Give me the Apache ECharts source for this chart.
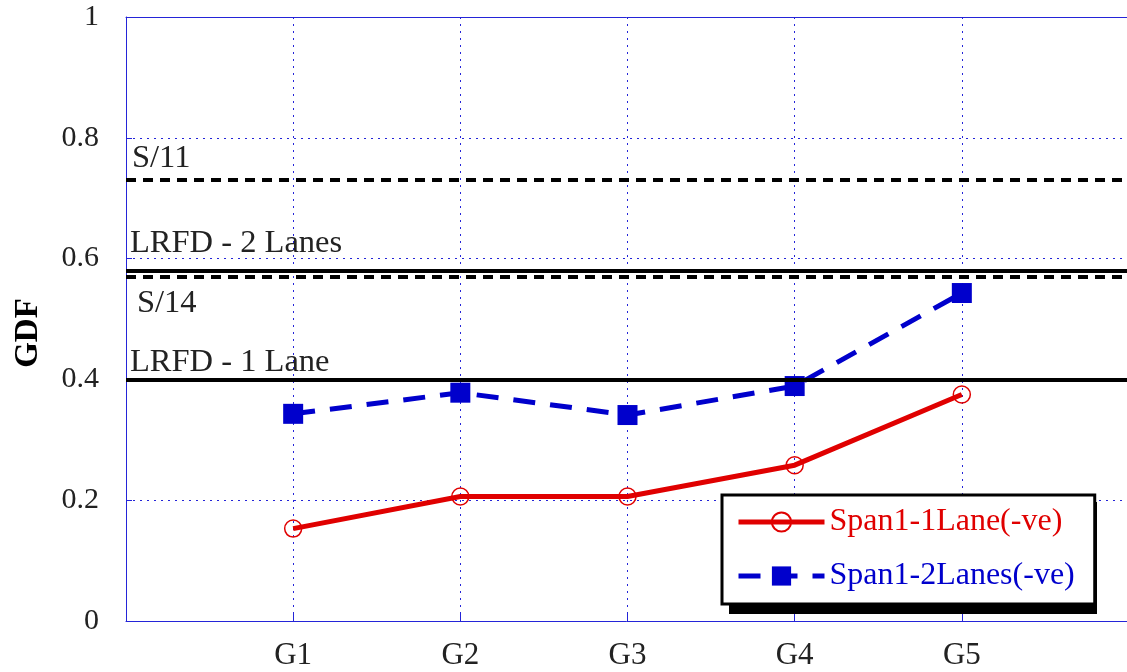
<!DOCTYPE html>
<html>
<head>
<meta charset="utf-8">
<script src="https://cdn.jsdelivr.net/npm/echarts@6/dist/echarts.min.js"></script>
<style>
  html, body { margin: 0; padding: 0; background: #fff; }
  #chart { width: 1127px; height: 672px; }
</style>
</head>
<body>
<div id="chart"></div>
<script>
// girders along x, GDF values
const girders = ['G1', 'G2', 'G3', 'G4', 'G5']
const oneLane = [0.153, 0.206, 0.206, 0.258, 0.375]
const twoLanes = [0.343, 0.378, 0.341, 0.389, 0.543]
const refNames = ['S/11', 'LRFD - 2 Lanes', 'S/14', 'LRFD - 1 Lane']
const refValues = [0.732, 0.581, 0.571, 0.4]
const refDashed = [true, false, true, false]

const serif = '"Liberation Serif", "DejaVu Serif", serif'
const axisBlue = '#2424d8'

const chart = echarts.init(document.getElementById('chart'), null, { renderer: 'canvas' })

// label offsets (x, y) for the reference lines
const refLabelPos = [
  ['insideStartTop', [6, 5]],
  ['insideStartTop', [4, 11]],
  ['insideStartBottom', [11, 10]],
  ['insideStartTop', [4, 0]]
]

const refLines = refValues.map((v, i) => ({
  yAxis: v,
  lineStyle: {
    color: '#000',
    width: 4,
    type: refDashed[i] ? [10, 7] : 'solid'
  },
  label: {
    show: true,
    formatter: refNames[i],
    position: refLabelPos[i][0],
    distance: refLabelPos[i][1],
    color: '#222',
    fontFamily: serif,
    fontSize: 32.5
  }
}))

const option = {
  animation: false,
  backgroundColor: '#fff',
  grid: {
    left: 126,
    top: 17,
    right: -2,
    bottom: 51,
    outerBoundsMode: 'none',
    containLabel: false
  },
  graphic: [
    {
      // legend drop shadow
      type: 'rect',
      z: 3,
      shape: { x: 729, y: 502, width: 368, height: 112 },
      style: { fill: '#000' }
    }
  ],
  legend: {
    orient: 'vertical',
    left: 722,
    top: 495,
    width: 368,
    height: 112,
    z: 5,
    padding: [11, 20, 12, 14],
    itemGap: 22,
    itemWidth: 86,
    itemHeight: 24,
    backgroundColor: '#fff',
    borderColor: '#000',
    borderWidth: 3,
    lineStyle: { width: 5 },
    textStyle: { fontFamily: serif, fontSize: 32 },
    data: [
      { name: 'Span1-1Lane(-ve)', textStyle: { color: '#e00000' } },
      { name: 'Span1-2Lanes(-ve)', textStyle: { color: '#0000cc' } }
    ]
  },
  xAxis: [
    {
      type: 'value',
      min: 0,
      max: 6,
      interval: 1,
      axisLine: { lineStyle: { color: axisBlue, width: 1 } },
      axisTick: { inside: true, length: 8, lineStyle: { color: axisBlue } },
      splitLine: { show: true, lineStyle: { color: axisBlue, type: [2, 5], width: 1 } },
      axisLabel: {
        margin: 19,
        color: '#222',
        fontFamily: serif,
        fontSize: 31,
        formatter: v => girders[v - 1] || ''
      }
    },
    {
      // top frame line
      type: 'value',
      position: 'top',
      min: 0,
      max: 6,
      axisLine: { show: true, lineStyle: { color: axisBlue, width: 1 } },
      axisTick: { show: false },
      axisLabel: { show: false },
      splitLine: { show: false }
    }
  ],
  yAxis: {
    type: 'value',
    min: 0,
    max: 1,
    interval: 0.2,
    name: 'GDF',
    nameLocation: 'middle',
    nameGap: 81,
    nameTextStyle: {
      fontFamily: serif,
      fontSize: 33,
      fontWeight: 'bold',
      color: '#000',
      padding: [0, 28, 0, 0]
    },
    axisLine: { show: true, lineStyle: { color: axisBlue, width: 1 } },
    axisTick: { show: true, inside: true, length: 6, lineStyle: { color: axisBlue } },
    splitLine: { show: true, lineStyle: { color: axisBlue, type: [2, 5], width: 1 } },
    axisLabel: {
      margin: 27,
      color: '#222',
      fontFamily: serif,
      fontSize: 30
    }
  },
  series: [
    {
      name: 'Span1-1Lane(-ve)',
      type: 'line',
      data: oneLane.map((v, i) => [i + 1, v]),
      symbol: 'circle',
      symbolSize: 17,
      lineStyle: { color: '#e00000', width: 5 },
      itemStyle: { color: 'rgba(255,255,255,0)', borderColor: '#e00000', borderWidth: 1.5 },
      z: 3,
      markLine: {
        silent: true,
        symbol: 'none',
        data: refLines
      }
    },
    {
      name: 'Span1-2Lanes(-ve)',
      type: 'line',
      data: twoLanes.map((v, i) => [i + 1, v]),
      symbol: 'rect',
      symbolSize: 20,
      lineStyle: { color: '#0000cc', width: 5, type: [22, 15] },
      itemStyle: { color: '#0000cc' },
      z: 4
    }
  ]
}

chart.setOption(option)
</script>
</body>
</html>
